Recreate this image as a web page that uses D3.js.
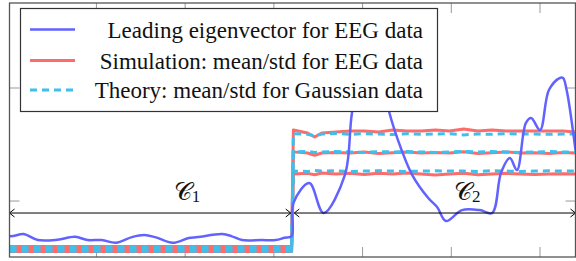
<!DOCTYPE html>
<html>
<head>
<meta charset="utf-8">
<script src="https://cdn.jsdelivr.net/npm/d3@7"></script>
<style>
  body { margin: 0; background: #fff; }
  svg { display: block; }
</style>
</head>
<body>
<div id="chart"></div>
<script>
// ---- data ----
const xTicks = [50, 100, 150, 200, 250, 300];
const yTicks = [0, 0.1];

// leading eigenvector, sampled points [index, value]
const eigIdx = [1, 3, 9, 17, 28, 38, 45, 53, 61, 70, 77, 83, 93, 102, 107, 121, 126, 132, 143, 151, 156, 160,
  161, 170, 178, 190, 194, 200, 205, 211, 215, 222, 228, 237, 242, 247, 256, 266, 273, 278, 283, 287, 292, 295, 300, 305, 311, 313, 315, 320];
const eigVal = [-0.031, -0.031, -0.0292, -0.0345, -0.0342, -0.0316, -0.0345, -0.0345, -0.0369, -0.0319, -0.0301, -0.0319, -0.0369, -0.0327, -0.0319, -0.0292, -0.031, -0.0345, -0.0345, -0.0345, -0.0325, -0.031,
  -0.0018, 0.0159, -0.0106, 0.023, 0.0779, 0.125, 0.138, 0.1115, 0.0788, 0.0451, 0.023, 0.0027, -0.0053, -0.0177, -0.008, -0.008, -0.0106, 0.0248, 0.038, 0.0274, 0.069, 0.0735, 0.0628, 0.0982, 0.1088, 0.1088, 0.0982, 0.045];

// cluster C1: flat mean/std
const c1Idx = [1, 160];
const simC1 = [-0.0447, -0.0425, -0.0403];   // lower, mean, upper
const thC1 = [-0.0445, -0.0425, -0.0405];

// cluster C2
const c2Idx = [161, 169, 173, 177, 185, 193, 201, 209, 217, 225, 233, 241, 249, 257, 265, 273, 281, 289, 297, 305, 313, 320];
const simUpperC2 = [0.0628, 0.0602, 0.0566, 0.0602, 0.0611, 0.0619, 0.0619, 0.0611, 0.0628, 0.0619, 0.0619, 0.0628, 0.0619, 0.0637, 0.0619, 0.0628, 0.0619, 0.0619, 0.0619, 0.0619, 0.0619, 0.0611];
const simMeanC2 = [0.0435, 0.0425, 0.0405, 0.0425, 0.043, 0.0425, 0.0434, 0.042, 0.0428, 0.0434, 0.0425, 0.043, 0.0425, 0.0436, 0.042, 0.0428, 0.0434, 0.0425, 0.0428, 0.042, 0.043, 0.0425];
const simLowerC2 = [0.0239, 0.0245, 0.0232, 0.0248, 0.0239, 0.0245, 0.0235, 0.0245, 0.0239, 0.0248, 0.0239, 0.023, 0.0239, 0.0245, 0.0232, 0.0239, 0.0245, 0.0239, 0.0235, 0.0239, 0.0242, 0.0239];
const thUpperC2 = [0.0595, 0.059, 0.0578, 0.0593, 0.0598, 0.059, 0.0596, 0.0593, 0.0588, 0.0596, 0.059, 0.0593, 0.0596, 0.0585, 0.0593, 0.059, 0.0596, 0.0593, 0.0593, 0.059, 0.0593, 0.0593];
const thMeanC2 = [0.0434, 0.0438, 0.043, 0.0434, 0.0438, 0.0434, 0.043, 0.0438, 0.0434, 0.0438, 0.0434, 0.043, 0.0434, 0.0438, 0.0434, 0.0438, 0.0434, 0.043, 0.0434, 0.0438, 0.0434, 0.0434];
const thLowerC2 = [0.0265, 0.0262, 0.027, 0.0265, 0.0268, 0.0262, 0.0265, 0.0268, 0.0265, 0.0262, 0.0265, 0.0268, 0.0265, 0.0265, 0.0262, 0.0268, 0.0265, 0.0262, 0.0265, 0.0268, 0.0265, 0.0265];

const clusterRanges = [[1, 159.5], [161.5, 320]];
const clusterLabelIdx = [101, 259];
const clusterSub = ["1", "2"];
const arrowY = -0.0106;

const legendLabels = [
  "Leading eigenvector for EEG data",
  "Simulation: mean/std for EEG data",
  "Theory: mean/std for Gaussian data"
];

// ---- drawing ----
const W = 576, H = 261;
const colors = { eig: "#6262ff", sim: "#ff6a6a", th: "#3fbfea" };

const svg = d3.select("#chart").append("svg")
  .attr("width", W).attr("height", H);

const x = d3.scaleLinear().domain([1, 320]).range([9.5, 575.5]);
const y = d3.scaleLinear().domain([-0.0495, 0.1752]).range([257, 3]);

// frame + inward ticks
const frame = svg.append("g");
xTicks.forEach(t => {
  frame.append("line").attr("x1", x(t)).attr("x2", x(t)).attr("y1", y.range()[0]).attr("y2", y.range()[0] - 10)
    .attr("stroke", "#999").attr("stroke-width", 1);
  frame.append("line").attr("x1", x(t)).attr("x2", x(t)).attr("y1", y.range()[1]).attr("y2", y.range()[1] + 10)
    .attr("stroke", "#999").attr("stroke-width", 1);
});
yTicks.forEach(t => {
  frame.append("line").attr("x1", x.range()[0]).attr("x2", x.range()[0] + 10).attr("y1", y(t)).attr("y2", y(t))
    .attr("stroke", "#999").attr("stroke-width", 1);
  frame.append("line").attr("x1", x.range()[1]).attr("x2", x.range()[1] - 10).attr("y1", y(t)).attr("y2", y(t))
    .attr("stroke", "#999").attr("stroke-width", 1);
});

const plot = svg.append("g");
const line = d3.line().x(d => x(d[0])).y(d => y(d[1]));

function stepSeries(c1val, c2vals) {
  return c1Idx.map(i => [i, c1val]).concat(c2Idx.map((i, k) => [i, c2vals[k]]));
}
const simSeries = [stepSeries(simC1[2], simUpperC2), stepSeries(simC1[1], simMeanC2), stepSeries(simC1[0], simLowerC2)];
const thSeries = [stepSeries(thC1[2], thUpperC2), stepSeries(thC1[1], thMeanC2), stepSeries(thC1[0], thLowerC2)];

simSeries.forEach(s => plot.append("path").attr("d", line(s))
  .attr("fill", "none").attr("stroke", colors.sim).attr("stroke-width", 3).attr("stroke-linejoin", "round"));
thSeries.forEach(s => plot.append("path").attr("d", line(s))
  .attr("fill", "none").attr("stroke", colors.th).attr("stroke-width", 3).attr("stroke-dasharray", "7,5"));

const eigLine = d3.line().x(d => x(d[0])).y(d => y(d[1])).curve(d3.curveCatmullRom.alpha(0.5));
plot.append("path").attr("d", eigLine(eigIdx.map((i, k) => [i, eigVal[k]])))
  .attr("fill", "none").attr("stroke", colors.eig).attr("stroke-width", 2.5).attr("stroke-linejoin", "round");

// cluster arrows and labels
const ann = svg.append("g");
clusterRanges.forEach((r, k) => {
  const x0 = x(r[0]), x1 = x(r[1]), yy = y(arrowY);
  ann.append("line").attr("x1", x0).attr("x2", x1).attr("y1", yy).attr("y2", yy)
    .attr("stroke", "#000").attr("stroke-width", 1);
  ann.append("path").attr("d", `M${x0 + 5},${yy - 4} L${x0},${yy} L${x0 + 5},${yy + 4}`)
    .attr("fill", "none").attr("stroke", "#000").attr("stroke-width", 1);
  ann.append("path").attr("d", `M${x1 - 5},${yy - 4} L${x1},${yy} L${x1 - 5},${yy + 4}`)
    .attr("fill", "none").attr("stroke", "#000").attr("stroke-width", 1);
  const t = ann.append("text").attr("x", x(clusterLabelIdx[k])).attr("y", yy - 13)
    .attr("text-anchor", "middle").attr("font-family", "'DejaVu Serif', 'Liberation Serif', serif")
    .attr("font-size", 25).attr("fill", "#111");
  t.append("tspan").text("\u{1D49E}");
  t.append("tspan").attr("font-size", 17).attr("dy", 2).attr("font-family", "'Liberation Serif', serif").text(clusterSub[k]);
});

// outer frame
svg.append("rect").attr("x", x.range()[0]).attr("y", y.range()[1])
  .attr("width", x.range()[1] - x.range()[0]).attr("height", y.range()[0] - y.range()[1])
  .attr("fill", "none").attr("stroke", "#555").attr("stroke-width", 1.3);

// legend
const lg = svg.append("g");
lg.append("rect").attr("x", 20.5).attr("y", 8.5).attr("width", 417).attr("height", 103)
  .attr("fill", "#fff").attr("stroke", "#333").attr("stroke-width", 1.2);
const rowsY = [29.5, 60.5, 90];
const styles = [
  { c: colors.eig, w: 2.5, dash: null },
  { c: colors.sim, w: 3, dash: null },
  { c: colors.th, w: 3, dash: "7,5" }
];
legendLabels.forEach((lab, k) => {
  lg.append("line").attr("x1", 30).attr("x2", 75).attr("y1", rowsY[k]).attr("y2", rowsY[k])
    .attr("stroke", styles[k].c).attr("stroke-width", styles[k].w)
    .attr("stroke-dasharray", styles[k].dash);
  lg.append("text").attr("x", 423).attr("y", rowsY[k]).attr("dy", "0.35em")
    .attr("text-anchor", "end").attr("font-family", "'Liberation Serif', serif")
    .attr("font-size", 23).attr("fill", "#111").text(lab);
});
</script>
</body>
</html>
